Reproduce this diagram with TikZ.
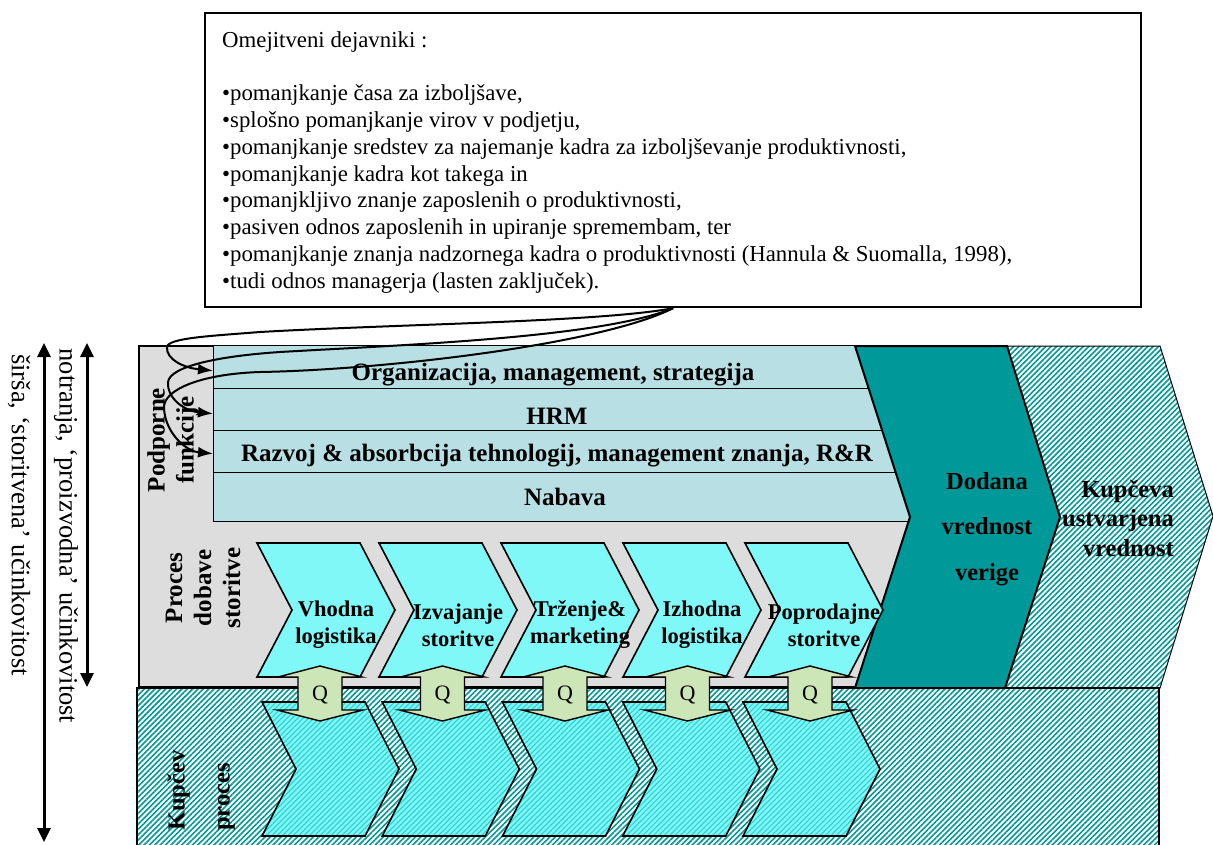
\documentclass[tikz,border=0pt]{standalone}
\usepackage{fontspec}
\setmainfont{Liberation Serif}
\usetikzlibrary{arrows.meta,patterns.meta}
\definecolor{barblue}{RGB}{184,224,228}
\definecolor{panelgray}{RGB}{221,221,221}
\definecolor{stepcyan}{RGB}{128,248,248}
\definecolor{valueteal}{RGB}{0,153,153}
\definecolor{qgreen}{RGB}{204,230,184}
\definecolor{softhatch}{RGB}{50,210,210}
\begin{document}
\begin{tikzpicture}[x=1pt,y=-1pt,line join=miter,
  tealhatch/.style={preaction={fill=white},pattern={Lines[angle=45,distance=3.8pt,line width=1.6pt]},pattern color=valueteal},
  panel/.style={draw=black,fill=panelgray,line width=2.6pt},
  barbox/.style={draw=black,fill=barblue,line width=1.3pt,inner sep=0pt,anchor=north west,minimum width=702pt},
  barlabel/.style={font=\bfseries\fontsize{25}{29}\selectfont,anchor=base,inner sep=0pt},
  upstep/.style={draw=black,fill=stepcyan,line width=1.6pt},
  lowstep/.style={draw=black,line width=1.6pt,preaction={fill=stepcyan},pattern={Lines[angle=45,distance=3.8pt,line width=1.2pt]},pattern color=softhatch},
  steplabel/.style={font=\bfseries\fontsize{22.5}{27}\selectfont,align=center,inner sep=0pt},
  valuechev/.style={draw=black,fill=valueteal,line width=2pt},
  valuelabel/.style={font=\bfseries\fontsize{24.5}{45.5}\selectfont,align=center,inner sep=0pt},
  buyerlabel/.style={font=\bfseries\fontsize{24.5}{29.5}\selectfont,align=right,inner sep=0pt,anchor=east},
  qshape/.style={draw=black,fill=qgreen,line width=1.4pt},
  qlabel/.style={font=\fontsize{22}{26}\selectfont,inner sep=0pt,anchor=base},
  grouplabel/.style={font=\bfseries\fontsize{25}{29}\selectfont,align=center,inner sep=0pt,rotate=90},
  scalelabel/.style={font=\fontsize{26.5}{30}\selectfont,inner sep=0pt,rotate=-90},
  scalearrow/.style={line width=3pt,{Triangle[length=14pt,width=13pt]}-{Triangle[length=14pt,width=13pt]}},
  feed/.style={line width=2pt,-{Latex[length=15pt,width=11pt]}},
  notebox/.style={draw=black,line width=2.2pt,inner sep=0pt,anchor=north west,minimum width=936pt,minimum height=294pt},
  notetext/.style={font=\fontsize{22.8}{26.8}\selectfont,align=left,inner sep=0pt,anchor=north west}
]
\useasboundingbox (0,0) rectangle (1213,844);

% customer value chevron (hatched) behind the value chain
\draw[tealhatch,draw=black,line width=1pt] (990,346) -- (1160,346) -- (1213,516) -- (1160,688) -- (990,688) -- cycle;

% customer process band
\draw[tealhatch,draw=black,line width=1.2pt] (137,688) rectangle (1159,870);

% internal chain panel
\draw[panel] (139,346) rectangle (915,687);

% support functions
\node[barbox,minimum height=43pt] (bar1) at (213,345) {};
\node[barbox,minimum height=42pt] (bar2) at (213,388) {};
\node[barbox,minimum height=42pt] (bar3) at (213,430) {};
\node[barbox,minimum height=49pt] (bar4) at (213,472) {};

% value added chevron
\draw[valuechev] (855,346) -- (1007,346) -- (1060,517) -- (1005,688) -- (855,688) -- (910,517) -- cycle;

% primary activities
\foreach \i/\txt in {0/{Vhodna\\logistika},1/{Izvajanje\\storitve},2/{Trženje\&\\marketing},3/{Izhodna\\logistika},4/{Poprodajne\\storitve}} {
  \pgfmathsetmacro\xa{257+122*\i}
  \draw[upstep] (\xa,543) -- ++(103,0) -- ++(35,67) -- ++(-35,67) -- ++(-103,0) -- ++(35,-67) -- cycle;
  \node[steplabel] (up\i) at (\xa+79,625) {\txt};
}

% customer-side steps
\foreach \i in {0,...,4} {
  \pgfmathsetmacro\xb{262+120.25*\i}
  \draw[lowstep] (\xb,702) -- ++(103,0) -- ++(34,67) -- ++(-34,67) -- ++(-103,0) -- ++(34,-67) -- cycle;
}

% quality links
\foreach \i in {0,...,4} {
  \pgfmathsetmacro\cx{320+122.5*\i}
  \draw[qshape] (\cx,666) -- (\cx+42,677) -- (\cx+22,677) -- (\cx+22,710) -- (\cx+43,710) -- (\cx,721)
     -- (\cx-43,710) -- (\cx-22,710) -- (\cx-22,677) -- (\cx-42,677) -- cycle;
  \node[qlabel] (q\i) at (\cx,700) {Q};
}

% labels
\node[barlabel] (lab1) at (553,380) {Organizacija, management, strategija};
\node[barlabel] (lab2) at (557,424) {HRM};
\node[barlabel] (lab3) at (557,461.5) {Razvoj \& absorbcija tehnologij, management znanja, R\&R};
\node[barlabel] (lab4) at (565,505) {Nabava};

\node[valuelabel] (dodana) at (987,529) {Dodana\\vrednost\\verige};
\node[buyerlabel] (kupceva) at (1174,518) {Kupčeva\\ustvarjena\\vrednost};

\node[grouplabel] (podporne) at (173,440) {Podporne\\funkcije};
\node[grouplabel] (proces) at (203,588) {Proces\\dobave\\storitve};
\node[grouplabel,anchor=west,align=left,font=\bfseries\fontsize{24.5}{45}\selectfont] (kupcev) at (201,831) {Kupčev\\proces};

% limiting factors
\node[notebox] (lim) at (204,12) {};
\node[notetext] (limtext) at (222,31) {Omejitveni dejavniki :\\[26.8pt]
•pomanjkanje časa za izboljšave,\\
•splošno pomanjkanje virov v podjetju,\\
•pomanjkanje sredstev za najemanje kadra za izboljševanje produktivnosti,\\
•pomanjkanje kadra kot takega in\\
•pomanjkljivo znanje zaposlenih o produktivnosti,\\
•pasiven odnos zaposlenih in upiranje spremembam, ter\\
•pomanjkanje znanja nadzornega kadra o produktivnosti (Hannula \& Suomalla, 1998),\\
•tudi odnos managerja (lasten zaključek).};

\draw[feed] (lim.south) .. controls (600,322) and (400,324) .. (260,332)
   .. controls (210,336) and (168,338) .. (167,347)
   .. controls (166,360) and (185,368) .. ([yshift=-3.5pt]bar1.west);
\draw[feed] (lim.south) .. controls (600,338) and (400,345) .. (280,352)
   .. controls (220,356) and (170,366) .. (168,382)
   .. controls (167,399) and (185,411) .. ([yshift=-4pt]bar2.west);
\draw[feed] (lim.south) .. controls (600,345) and (380,370) .. (260,372)
   .. controls (200,374) and (163,390) .. (164,408)
   .. controls (165,432) and (185,451) .. ([yshift=-2pt]bar3.west);

% efficiency scope arrows
\coordinate (wideTop) at (44,343);
\coordinate (wideBot) at (44,842);
\coordinate (innerTop) at (87,343);
\coordinate (innerBot) at (87,687);
\draw[scalearrow] (wideTop) -- (wideBot);
\draw[scalearrow] (innerTop) -- (innerBot);
\node[scalelabel] (widelab) at (19,515) {širša, ‘storitvena’ učinkovitost};
\node[scalelabel] (innerlab) at (66,536) {notranja, ‘proizvodna’ učinkovitost};
\end{tikzpicture}
\end{document}
